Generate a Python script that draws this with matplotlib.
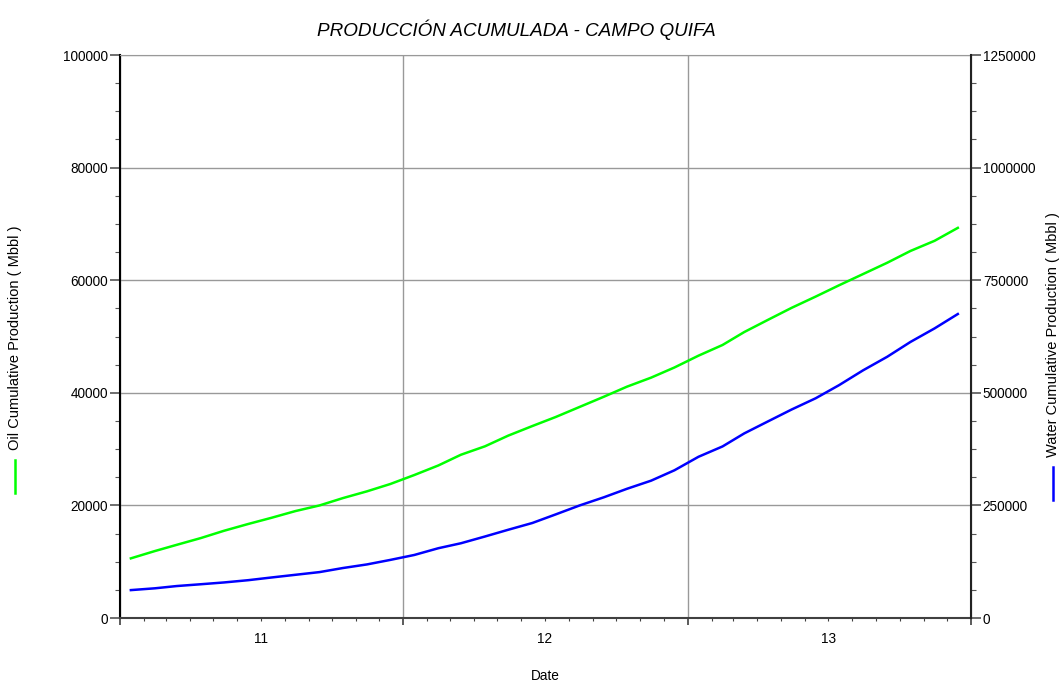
import datetime as dt

import matplotlib
matplotlib.use("Agg")
import matplotlib.pyplot as plt
import matplotlib.dates as mdates
from matplotlib.lines import Line2D
from matplotlib.ticker import MultipleLocator, StrMethodFormatter

plt.rcParams["font.family"] = ["Liberation Sans", "DejaVu Sans"]

# monthly points, Jan 2011 .. Dec 2013 (plotted mid-month)
months = [dt.date(2011 + i // 12, i % 12 + 1, 15) for i in range(36)]

oil_mbbl = [10.6, 11.9, 13.0, 14.2, 15.5, 16.7, 17.8, 19.0, 20.0, 21.3, 22.5, 23.8,
            25.4, 27.1, 29.0, 30.5, 32.4, 34.1, 35.7, 37.5, 39.3, 41.1, 42.7, 44.5,
            46.6, 48.5, 50.8, 53.0, 55.1, 57.1, 59.1, 61.1, 63.1, 65.2, 67.0, 69.3]
oil_mbbl = [v * 1000 for v in oil_mbbl]

water_mbbl = [62, 66, 71, 75, 79, 84, 90, 96, 102, 111, 119, 129,
              140, 155, 166, 181, 196, 211, 230, 250, 268, 287, 305, 328,
              358, 381, 410, 437, 463, 488, 517, 550, 580, 613, 643, 675]
water_mbbl = [v * 1000 for v in water_mbbl]

year_labels = ["11", "12", "13"]
mid_years = [dt.date(2011 + i, 7, 1) for i in range(len(year_labels))]

fig = plt.figure(figsize=(10.61, 6.82), dpi=100)
ax = fig.add_axes([0.1131, 0.0938, 0.8021, 0.8255])
ax2 = ax.twinx()

ax.plot(months, oil_mbbl, color="#00ff00", lw=1.8, zorder=3)
ax2.plot(months, water_mbbl, color="#0000ff", lw=1.8, zorder=3)

ax.set_xlim(dt.date(2011, 1, 1), dt.date(2014, 1, 1))
ax.set_ylim(0, 100000)
ax2.set_ylim(0, 1250000)

ax.xaxis.set_major_locator(mdates.YearLocator())
ax.xaxis.set_minor_locator(mdates.MonthLocator())
ax.xaxis.set_major_formatter(plt.NullFormatter())
ax.tick_params(axis="x", which="major", length=5, width=1.2, color="#404040")
ax.tick_params(axis="x", which="minor", length=2.2, width=0.8, color="#404040")

sec = ax.secondary_xaxis("bottom")
sec.set_xticks(mid_years, labels=year_labels)
sec.tick_params(length=0, pad=10, labelsize=9.8)
sec.spines["bottom"].set_visible(False)

ax.yaxis.set_major_locator(MultipleLocator(20000))
ax.yaxis.set_minor_locator(MultipleLocator(5000))
ax2.yaxis.set_major_locator(MultipleLocator(250000))
ax2.yaxis.set_minor_locator(MultipleLocator(62500))
for a in (ax, ax2):
    a.yaxis.set_major_formatter(StrMethodFormatter("{x:.0f}"))
    a.tick_params(axis="y", which="major", length=7, width=1.2, color="#555555",
                  labelsize=9.8, pad=1.5)
    a.tick_params(axis="y", which="minor", length=3.6, width=0.8, color="#555555")

ax.grid(True, which="major", color="#999999", lw=1)

ax.spines["left"].set_color("black")
ax.spines["left"].set_linewidth(1.5)
ax.spines["bottom"].set_color("#404040")
ax.spines["bottom"].set_linewidth(1.5)
ax.spines["top"].set_color("#999999")
ax2.spines["right"].set_color("#222222")
ax2.spines["right"].set_linewidth(1.5)
ax2.spines["top"].set_visible(False)
ax2.spines["left"].set_visible(False)
ax2.spines["bottom"].set_visible(False)

fig.text(0.487, 0.956, "PRODUCCIÓN ACUMULADA - CAMPO QUIFA", ha="center", va="center",
         fontsize=13.6, style="italic")
fig.text(0.514, 0.009, "Date", ha="center", va="center", fontsize=9.8,
         transform=fig.transFigure).set_y(1 - 676 / 682)

fig.text(0.0141, 1 - 338 / 682, "Oil Cumulative Production ( Mbbl )", rotation=90,
         ha="center", va="center", fontsize=10.5)
fig.add_artist(Line2D([0.0141, 0.0141], [1 - 460 / 682, 1 - 493 / 682],
                      color="#00ff00", lw=1.8, transform=fig.transFigure))
fig.text(0.9925, 1 - 335 / 682, "Water Cumulative Production ( Mbbl )", rotation=90,
         ha="center", va="center", fontsize=10.5)
fig.add_artist(Line2D([0.9925, 0.9925], [1 - 467 / 682, 1 - 500 / 682],
                      color="#0000ff", lw=1.8, transform=fig.transFigure))

fig.savefig("out.png", dpi=100)
